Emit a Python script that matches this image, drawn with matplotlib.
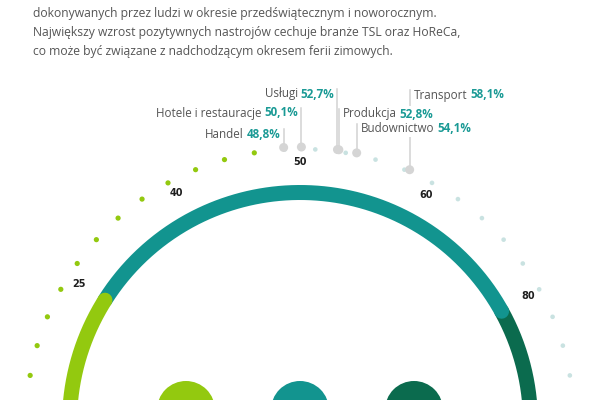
import matplotlib
matplotlib.use("Agg")
import matplotlib.pyplot as plt
from matplotlib.patches import Circle
import numpy as np

# text and values
intro_lines = [
    "dokonywanych przez ludzi w okresie przedświątecznym i noworocznym.",
    "Największy wzrost pozytywnych nastrojów cechuje branże TSL oraz HoReCa,",
    "co może być związane z nadchodzącym okresem ferii zimowych.",
]
sectors = ["Handel", "Hotele i restauracje", "Usługi", "Produkcja", "Budownictwo", "Transport"]
sector_values = [48.8, 50.1, 52.7, 52.8, 54.1, 58.1]
tick_values = [25, 40, 50, 60, 80]
zone_edges = [0, 25, 80, 100]
zone_colors = ["#93C90F", "#12948F", "#0B6B4E"]

# gauge scale: value -> angle in degrees from the top (clockwise)
scale_values = [0, 25, 40, 50, 60, 80, 100]
scale_angles = [-115, -57.8, -28.3, 0, 28.9, 61, 115]

# layout of the sector labels
label_side = ["left", "left", "left", "right", "right", "right"]
label_y = [134, 113, 94, 114, 129, 95]

cx, cy = 300, 423  # gauge centre in pixels
teal_txt = "#1A9A95"
grey_txt = "#555555"
font = "Open Sans"


def to_xy(v, r):
    a = np.radians(np.interp(v, scale_values, scale_angles))
    return cx + r * np.sin(a), cy - r * np.cos(a)


fig = plt.figure(figsize=(6, 4), dpi=100)
ax = fig.add_axes([0, 0, 1, 1])
ax.set_xlim(0, 600)
ax.set_ylim(400, 0)
ax.axis("off")

# intro paragraph
for i, line in enumerate(intro_lines):
    ax.text(33, 14 + i * 18.5, line, fontsize=8.7, color=grey_txt, family=font,
            va="center", ha="left")

# gauge arc, drawn from the right so each zone overlaps the next one
for lo, hi, col in reversed(list(zip(zone_edges[:-1], zone_edges[1:], zone_colors))):
    v = np.linspace(lo, hi, 300)
    x, y = to_xy(v, 230.5)
    ax.plot(x, y, color=col, lw=10.8, solid_capstyle="round", zorder=2)

# dotted outer ring: green below the lowest sector, light blue above
for k in range(-15, 15):
    ang = (k + 0.5) * 6.4
    val = np.interp(ang, scale_angles, scale_values)
    x, y = to_xy(val, 274)
    if val < min(sector_values):
        ax.add_patch(Circle((x, y), 2.6, color=zone_colors[0], lw=0, zorder=3))
    else:
        ax.add_patch(Circle((x, y), 2.3, color="#C9E2E1", lw=0, zorder=3))

# tick labels
for t in tick_values:
    x, y = to_xy(t, 261)
    ax.text(x, y, str(t), fontsize=7, fontweight="bold", color="#1E1E1E",
            family="DejaVu Sans", ha="center", va="center", zorder=4)

# sector markers with leader lines and labels
fig.canvas.draw()
rend = fig.canvas.get_renderer()
for name, val, side, ly in zip(sectors, sector_values, label_side, label_y):
    mx, my = to_xy(val, 276)
    ax.plot([mx, mx], [my, ly - 5], color="#D2D2D2", lw=1.1, zorder=3)
    ax.add_patch(Circle((mx, my), 4.5, color="#D5D5D5", lw=0, zorder=5))
    pct = f"{val:.1f}%".replace(".", ",")
    box = dict(facecolor="white", edgecolor="none", pad=1)
    if side == "left":
        t2 = ax.text(mx - 3, ly, pct, fontsize=8.4, fontweight="bold", color=teal_txt,
                     family=font, ha="right", va="center", bbox=box, zorder=6)
        w = t2.get_window_extent(rend).width
        ax.text(mx - 3 - w - 3, ly, name, fontsize=8.4, color=grey_txt, family=font,
                ha="right", va="center", bbox=box, zorder=6)
    else:
        t1 = ax.text(mx + 4, ly, name, fontsize=8.4, color=grey_txt, family=font,
                     ha="left", va="center", bbox=box, zorder=6)
        w = t1.get_window_extent(rend).width
        ax.text(mx + 4 + w + 3, ly, pct, fontsize=8.4, fontweight="bold", color=teal_txt,
                family=font, ha="left", va="center", bbox=box, zorder=6)

# zone badges at the bottom
for i, col in enumerate(zone_colors):
    ax.add_patch(Circle((186 + i * 114, 410), 29, color=col, lw=0, zorder=2))

fig.savefig("out.png", dpi=100, facecolor="white")
